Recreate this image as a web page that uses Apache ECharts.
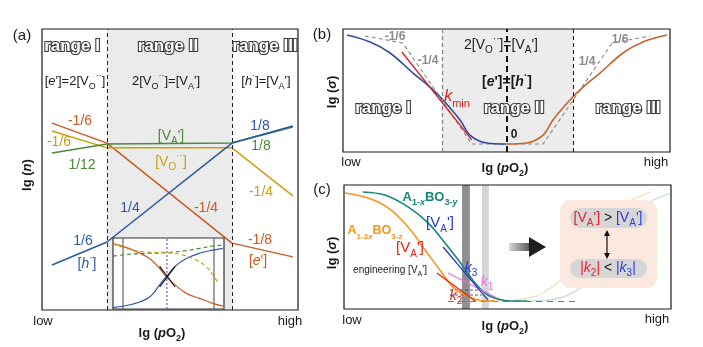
<!DOCTYPE html>
<html><head><meta charset="utf-8">
<script src="https://cdn.jsdelivr.net/npm/echarts@6/dist/echarts.min.js"></script>
<style>html,body{margin:0;padding:0;background:#fff}#c{width:703px;height:347px}</style>
</head><body><div id="c"></div>
<script>
// ===== Data (arbitrary units 0..100) =====
// Panel (a): lg n vs lg pO2
const aX   = [3.9, 25.4, 74.2, 98];
const aE   = [66.5, 59.4, 23.8, 18.9];   // [e']
const aVO  = [63.7, 57.7, 57.7, 40.6];   // [VO..]
const aVA  = [55.9, 59.1, 59.4, 65.1];   // [VA']
const aH   = [16.0, 24.2, 59.4, 65.5];   // [h']
const aRanges = [25.4, 74.2];
// Panel (a) inset
const inX  = [0, 18, 33, 42, 48, 56, 66, 78, 90, 99];
const inE  = [92, 83, 71, 57, 45.5, 34, 22, 15, 8, 4];
const inH  = [2, 7, 17, 34, 45.5, 60, 71, 78.5, 83, 85.5];
const inVAx = [0, 18, 33, 48, 66, 78, 90, 99];
const inVA  = [74.6, 77.5, 78.5, 79.3, 82.1, 85.5, 88.7, 90.1];
const inVOx = [0, 12, 27, 48, 63, 75, 84, 90, 94];
const inVO  = [91.5, 85.5, 80.7, 79.3, 76, 69, 59.6, 47.9, 38.5];
const inGuides = [9, 91];
const inMid = [48.6];
const inTanX = [42, 56], inTanA = [60, 31], inTanB = [31, 60];
// Panel (b): lg sigma
const bLX = [1.2, 8.3, 14.4, 21.4, 26.6, 30.6, 35.8, 38.8, 44.0, 50];
const bLY = [95.1, 89.4, 80.5, 64.2, 52.8, 42.3, 26.0, 13.8, 7.3, 6.5];
const bRX = [50, 56.0, 61.2, 64.2, 69.4, 73.4, 78.6, 85.6, 91.7, 99.1];
const bRY = [6.5, 7.3, 13.8, 26.0, 42.3, 52.8, 64.2, 80.5, 89.4, 95.1];
const bDashX = [6.7, 18.3, 39.4, 61.2, 82.3, 93.9];
const bDashY = [94.3, 88.6, 6.5, 6.5, 88.6, 94.3];
const bKX = [18.0, 39.4], bKY = [81.3, 9.8];
const bRanges = [30.3, 50.2, 70.3];
// Panel (c)
const cOrX  = [0.3, 7.3, 13.5, 19.6, 24.8, 30.0, 33.3, 37.0, 41.0, 46.2];
const cOrY  = [93.5, 89.5, 81.5, 66.1, 47.6, 29.0, 17.7, 11.3, 7.3, 6.5];
const cOrFX = [46.2, 52, 60.9, 71.3, 77.4, 84.4, 93.6];
const cOrFY = [6.5, 7.2, 12.9, 37.1, 63.7, 82.3, 94.4];
const cTeX  = [5.8, 12.5, 19.6, 25.7, 30.9, 36.1, 40.1, 44.0, 48.3, 52.3, 56.0];
const cTeY  = [94.4, 91.9, 82.3, 69.4, 53.2, 35.5, 21.0, 11.3, 7.3, 6.5, 6.5];
const cTeFX = [56.0, 66.1, 76.1, 84.4, 91.4, 99.7];
const cTeFY = [6.5, 8.9, 25.8, 58.1, 82.3, 93.5];
const cK3X = [30.3, 44.0], cK3Y = [50.0, 7.3];
const cK1X = [31.8, 46.8], cK1Y = [29.0, 8.9];
const cK2X = [28.4, 40.1], cK2Y = [29.0, 6.5];
const cBaseX = [31.8, 70.6], cBaseY = [6, 6];
const cTickX = [32.4, 42.2], cTick1 = [15.3, 15.3], cTick2 = [11.3, 11.3];
const cDarkBand = [36.1, 38.5], cLightBand = [42.2, 44.3];

// ===== Styles =====
const FONT = '"Liberation Sans", Arial, Helvetica, sans-serif';
const OR = '#cc5a22', GD = '#c9a010', GR = '#4b8a3a', BL = '#2e57a8';
const bBlue = '#2f4c9e', bOr = '#c8622a';
const cOr = '#f7941d', cTe = '#17877a', cBlue = '#2a36d0', cRed = '#e2231a', cPink = '#ee6fe0';

const ax = i => ({gridIndex: i, type: 'value', min: 0, max: 100, show: false});
const pts = (xs, ys) => xs.map((x, i) => [x, ys[i]]);
function L(gi, xs, ys, color, o) {
  o = o || {};
  return Object.assign({
    type: 'line', xAxisIndex: gi, yAxisIndex: gi, data: pts(xs, ys),
    showSymbol: false, symbol: 'none', silent: true, animation: false,
    smooth: o.smooth || false, z: o.z || 4,
    lineStyle: {color, width: o.w || 1.5, type: o.type || 'solid', opacity: o.op == null ? 1 : o.op}
  }, o.extra || {});
}
const vline = (gi, x, color, o) => L(gi, [x, x], [0, 100], color, o);

function richFor(fs, weight, fstyle, subRatio) {
  const sm = Math.round(fs * (subRatio || 0.68));
  const lh = Math.round(fs * 1.5);
  const f = (s, st, w) => `${st || fstyle} ${w || weight} ${s}px ${FONT}`;
  const R = '#e8202a', B = '#2b3be0';
  return {
    s:  {font: f(sm), verticalAlign: 'bottom', lineHeight: sm},
    si: {font: f(sm, 'italic'), verticalAlign: 'bottom', lineHeight: sm},
    p:  {font: f(sm), verticalAlign: 'top', lineHeight: sm},
    i:  {font: f(fs, 'italic'), lineHeight: lh},
    r:  {font: f(fs), fill: R, lineHeight: lh},
    ri: {font: f(fs, 'italic'), fill: R, lineHeight: lh},
    rs: {font: f(sm), fill: R, verticalAlign: 'bottom', lineHeight: sm},
    b:  {font: f(fs), fill: B, lineHeight: lh},
    bi: {font: f(fs, 'italic'), fill: B, lineHeight: lh},
    bs: {font: f(sm), fill: B, verticalAlign: 'bottom', lineHeight: sm}
  };
}
function T(x, y, text, o) {
  o = o || {};
  const fs = o.fs || 13, w = o.w || 'normal', st = o.st || 'normal';
  const style = {
    text, fill: o.c || '#1a1a1a', font: `${st} ${w} ${fs}px ${FONT}`,
    align: 'center', verticalAlign: 'middle', lineHeight: Math.round(fs * 1.5),
    rich: richFor(fs, w, st, o.sub)
  };
  if (o.stroke) { style.stroke = o.stroke; style.lineWidth = o.lw || 2; }
  return {type: 'text', x, y, rotation: o.rot || 0, z: 100, silent: true, style};
}
const RG = t => ({fs: 17, w: 'bold', c: '#ffffff', stroke: '#3a3a3a', lw: 2.2});

const series = [
  // ---- Panel (a)
  Object.assign(L(0, aX, aE, OR), {
    markArea: {silent: true, z: 1, itemStyle: {color: '#ebebeb'}, data: [[{xAxis: aRanges[0]}, {xAxis: aRanges[1]}]]},
    markLine: {silent: true, symbol: ['none', 'none'], label: {show: false}, animation: false,
      lineStyle: {type: [4, 3], color: '#222', width: 1}, data: aRanges.map(v => ({xAxis: v}))}
  }),
  L(0, aX, aVO, GD),
  L(0, aX, aVA, GR),
  L(0, aX, aH, BL),
  // ---- inset
  vline(1, inGuides[0], '#666', {z: 11, w: 1.2}),
  vline(1, inGuides[1], '#666', {z: 11, w: 1.2}),
  vline(1, inMid[0], '#8a4fd0', {z: 11, w: 1.2, type: [2, 2]}),
  L(1, inX, inE, OR, {smooth: 0.4, z: 12, w: 1.2}),
  L(1, inX, inH, BL, {smooth: 0.4, z: 12, w: 1.2}),
  L(1, inVAx, inVA, GR, {smooth: 0.4, z: 12, w: 1.2, type: [4, 3]}),
  L(1, inVOx, inVO, GD, {smooth: 0.4, z: 12, w: 1.2, type: [4, 3]}),
  L(1, inTanX, inTanA, '#111', {z: 12, w: 1.2}),
  L(1, inTanX, inTanB, '#111', {z: 12, w: 1.2}),
  // ---- Panel (b)
  Object.assign(L(2, bDashX, bDashY, '#888', {type: [4, 3], w: 1.1}), {
    markArea: {silent: true, z: 1, itemStyle: {color: '#ececec'}, data: [[{xAxis: bRanges[0]}, {xAxis: bRanges[2]}]]},
    markLine: {silent: true, symbol: ['none', 'none'], label: {show: false}, animation: false,
      data: [
        {xAxis: bRanges[0], lineStyle: {type: [4, 3], color: '#888', width: 1.3}},
        {xAxis: bRanges[1], lineStyle: {type: [6, 4], color: '#111', width: 2}},
        {xAxis: bRanges[2], lineStyle: {type: [4, 3], color: '#222', width: 1.1}}
      ]}
  }),
  L(2, bLX, bLY, bBlue, {smooth: 0.35, w: 1.6}),
  L(2, bRX, bRY, bOr, {smooth: 0.35, w: 1.6}),
  L(2, bKX, bKY, '#d42020', {w: 1.3, z: 5}),
  // ---- Panel (c)
  Object.assign(L(3, cBaseX, cBaseY, '#777', {type: [6, 5], w: 1.1}), {
    markArea: {silent: true, z: 1, data: [
      [{xAxis: cDarkBand[0], itemStyle: {color: '#8f8f8f'}}, {xAxis: cDarkBand[1]}],
      [{xAxis: cLightBand[0], itemStyle: {color: '#d6d6d6'}}, {xAxis: cLightBand[1]}]
    ]}
  }),
  L(3, cTickX, cTick1, '#444', {type: [3, 2], w: 0.9}),
  L(3, cTickX, cTick2, '#444', {type: [3, 2], w: 0.9}),
  L(3, cOrFX, cOrFY, cOr, {smooth: 0.35, op: 0.3, w: 1.4}),
  L(3, cTeFX, cTeFY, cTe, {smooth: 0.35, op: 0.25, w: 1.4}),
  L(3, cOrX, cOrY, cOr, {smooth: 0.35, w: 1.6}),
  L(3, cTeX, cTeY, cTe, {smooth: 0.35, w: 1.6}),
  L(3, cK2X, cK2Y, cRed, {w: 1.2, z: 6}),
  L(3, cK1X, cK1Y, cPink, {w: 1.2, z: 6}),
  L(3, cK3X, cK3Y, cBlue, {w: 1.3, z: 6})
];

const graphic = [
  // Panel (a)
  T(22, 36, '(a)', {fs: 15}),
  T(72, 46, 'range I', RG()), T(168, 46, 'range II', RG()), T(265, 46, 'range III', RG()),
  T(75, 81, "[{i|e}']=2[V{s|O}{p|··}]", {fs: 13}),
  T(166, 81, "2[V{s|O}{p|··}]=[V{s|A}']", {fs: 13}),
  T(266, 81, "[{i|h}{p|·}]=[V{s|A}']", {fs: 13}),
  T(80, 121, '-1/6', {fs: 14, c: OR}),
  T(59, 142, '-1/6', {fs: 14, c: GD}),
  T(82, 165, '1/12', {fs: 14, c: GR}),
  T(171, 136, "[V{s|A}']", {fs: 14, c: GR}),
  T(171, 162, '[V{s|O}{p|··}]', {fs: 14, c: GD}),
  T(260, 126, '1/8', {fs: 14, c: BL}),
  T(261, 146, '1/8', {fs: 14, c: GR}),
  T(261, 192, '-1/4', {fs: 14, c: GD}),
  T(130, 208, '1/4', {fs: 14, c: BL}),
  T(206, 208, '-1/4', {fs: 14, c: OR}),
  T(83, 241, '1/6', {fs: 14, c: BL}),
  T(87, 264, '[{i|h}{p|·}]', {fs: 14, c: BL}),
  T(260, 240, '-1/8', {fs: 14, c: OR}),
  T(258, 261, "[{i|e}']", {fs: 14, c: OR}),
  T(43, 321, 'low', {fs: 13}), T(290, 321, 'high', {fs: 13}),
  T(162, 333, 'lg ({i|p}O{s|2})', {fs: 13, w: 'bold'}),
  T(27, 175, 'lg ({i|n})', {fs: 13, w: 'bold', rot: Math.PI / 2}),
  // Panel (b)
  T(322, 35, '(b)', {fs: 15}),
  T(332, 92, 'lg ({i|σ})', {fs: 13, w: 'bold', rot: Math.PI / 2}),
  T(395, 37, '-1/6', {fs: 12, w: 'bold', c: '#8a8a8a'}),
  T(428, 61, '-1/4', {fs: 12, w: 'bold', c: '#8a8a8a'}),
  T(587, 62, '1/4', {fs: 12, w: 'bold', c: '#8a8a8a'}),
  T(620, 40, '1/6', {fs: 12, w: 'bold', c: '#8a8a8a'}),
  T(501, 45, "2[V{s|O}{p|··}]=[V{s|A}']", {fs: 14}),
  T(507, 82, "[{i|e}']=[{i|h}{p|·}]", {fs: 14, w: 'bold'}),
  T(514, 135, '0', {fs: 12, w: 'bold'}),
  T(457, 97, '{i|k}{s|min}', {fs: 16, c: '#d42020'}),
  T(383, 108, 'range I', RG()), T(514, 108, 'range II', RG()), T(628, 108, 'range III', RG()),
  T(351, 162, 'low', {fs: 13}), T(656, 162, 'high', {fs: 13}),
  T(505, 168, 'lg ({i|p}O{s|2})', {fs: 13, w: 'bold'}),
  // Panel (c)
  T(322, 190, '(c)', {fs: 15}),
  T(332, 253, 'lg ({i|σ})', {fs: 13, w: 'bold', rot: Math.PI / 2}),
  T(430, 197, 'A{s|1-}{si|x}BO{s|3-}{si|y}', {fs: 13, w: 'bold', c: cTe, sub: 0.66}),
  T(375, 231, 'A{s|1-2}{si|x}BO{s|3-}{si|z}', {fs: 12.5, w: 'bold', c: cOr, sub: 0.62}),
  T(440, 223, "[V{s|A}']", {fs: 15, c: cBlue}),
  T(410, 248, "[V{s|A}']", {fs: 15, c: cRed}),
  T(390, 270, "engineering [V{s|A}']", {fs: 10}),
  T(471, 268, '{i|k}{s|3}', {fs: 14, c: cBlue}),
  T(487, 282, '{i|k}{s|1}', {fs: 14, c: cPink}),
  T(456, 296, '{i|k}{s|2}', {fs: 14, c: cRed}),
  T(352, 320, 'low', {fs: 13}), T(657, 319, 'high', {fs: 13}),
  T(505, 326, 'lg ({i|p}O{s|2})', {fs: 13, w: 'bold'}),
  // arrow
  {type: 'rect', z: 90, silent: true, shape: {x: 509, y: 243, width: 21, height: 8},
   style: {fill: {type: 'linear', x: 0, y: 0, x2: 1, y2: 0, colorStops: [{offset: 0, color: '#d8d8d8'}, {offset: 1, color: '#555'}]}}},
  {type: 'polygon', z: 90, silent: true, shape: {points: [[529, 237], [546, 247], [529, 257]]}, style: {fill: '#1e1e1e'}},
  // summary box
  {type: 'rect', z: 90, silent: true, shape: {x: 560, y: 200, width: 97, height: 88, r: 11}, style: {fill: '#fbe8de'}},
  {type: 'rect', z: 91, silent: true, shape: {x: 570, y: 208, width: 77, height: 20, r: 10}, style: {fill: '#d6d6d6'}},
  {type: 'rect', z: 91, silent: true, shape: {x: 570, y: 259, width: 77, height: 19, r: 9.5}, style: {fill: '#d6d6d6'}},
  {type: 'line', z: 92, silent: true, shape: {x1: 607, y1: 234, x2: 607, y2: 255}, style: {stroke: '#111', lineWidth: 1.2}},
  {type: 'polygon', z: 92, silent: true, shape: {points: [[604, 236], [607, 230], [610, 236]]}, style: {fill: '#111'}},
  {type: 'polygon', z: 92, silent: true, shape: {points: [[604, 253], [607, 259], [610, 253]]}, style: {fill: '#111'}},
  T(608, 218, "{r|[V}{rs|A}{r|']} > {b|[V}{bs|A}{b|']}", {fs: 14}),
  T(608, 268, '{r||}{ri|k}{rs|2}{r||} < {b||}{bi|k}{bs|3}{b||}', {fs: 14})
];

const chart = echarts.init(document.getElementById('c'), null, {renderer: 'canvas'});
chart.setOption({
  animation: false,
  grid: [
    {left: 42, top: 29, width: 256, height: 281, show: true, borderColor: '#1a1a1a', borderWidth: 1.2, backgroundColor: 'rgba(0,0,0,0)', z: 3},
    {left: 113, top: 238, width: 111, height: 71, show: true, borderColor: '#333', borderWidth: 1.2, backgroundColor: '#ffffff', z: 10},
    {left: 343, top: 29, width: 327, height: 123, show: true, borderColor: '#1a1a1a', borderWidth: 1.2, backgroundColor: 'rgba(0,0,0,0)', z: 3},
    {left: 344, top: 185, width: 327, height: 124, show: true, borderColor: '#1a1a1a', borderWidth: 1.2, backgroundColor: 'rgba(0,0,0,0)', z: 3}
  ],
  xAxis: [0, 1, 2, 3].map(ax),
  yAxis: [0, 1, 2, 3].map(ax),
  series,
  graphic
});
</script>
</body></html>
